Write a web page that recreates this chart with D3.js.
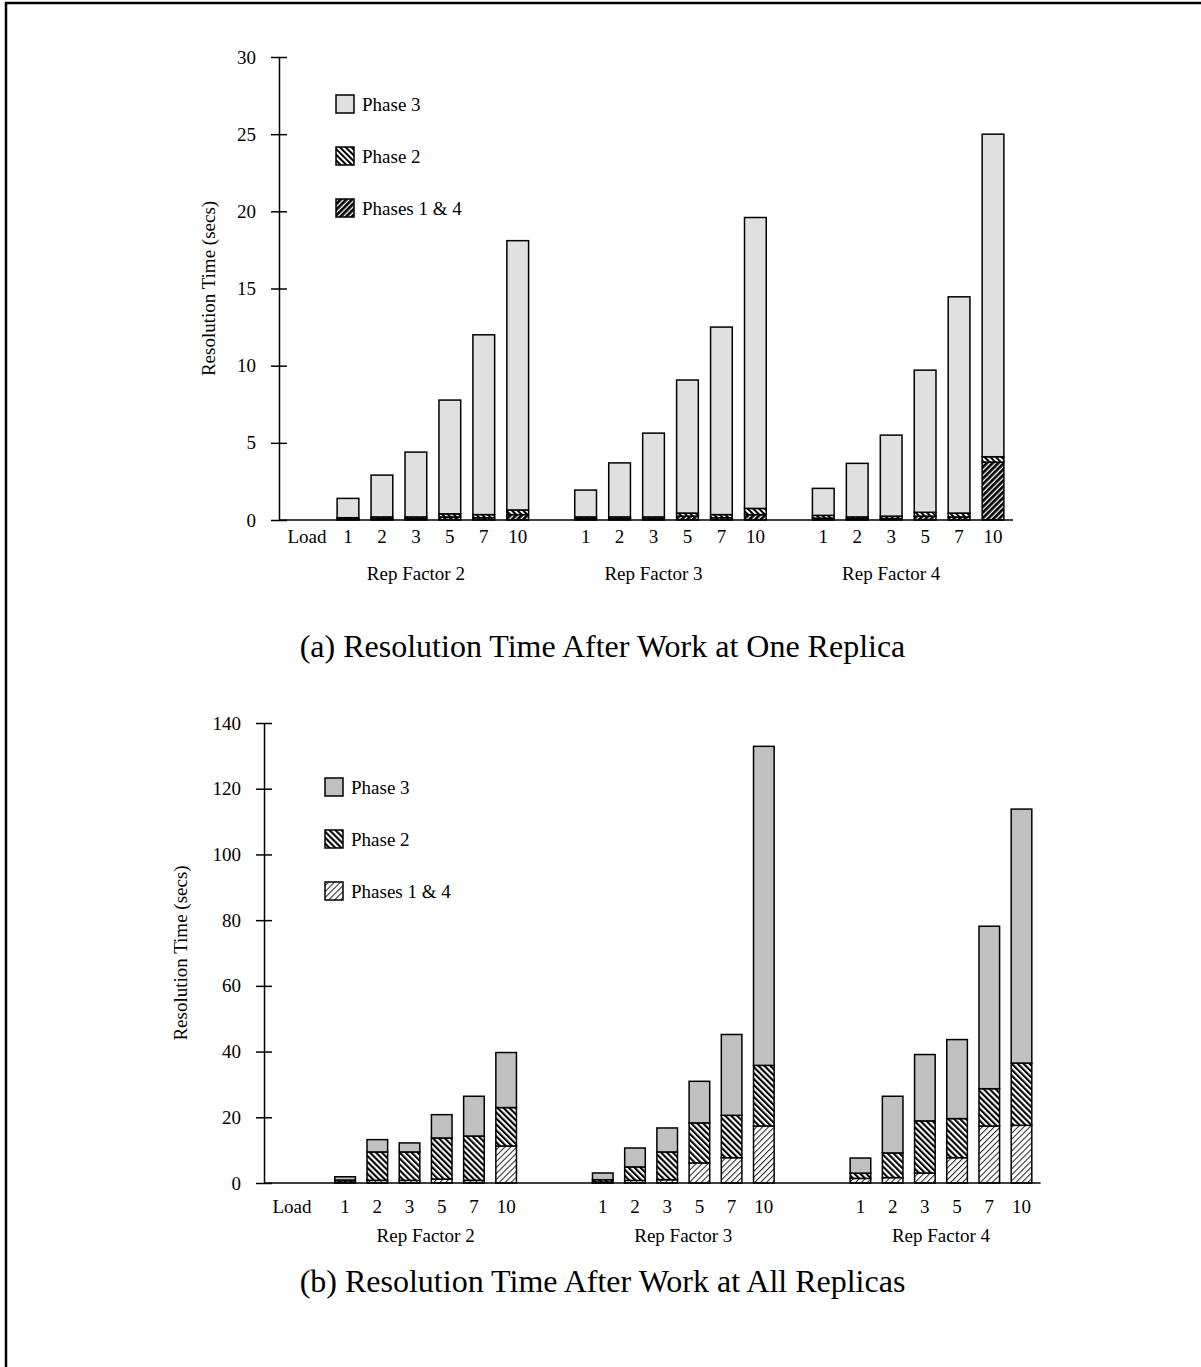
<!DOCTYPE html>
<html>
<head>
<meta charset="utf-8">
<script src="https://cdn.jsdelivr.net/npm/d3@7"></script>
<style>
  body { margin: 0; background: #fff; }
  text { font-family: "Liberation Serif", "Times New Roman", serif; fill: #000; }
</style>
</head>
<body>
<div id="chart"></div>
<script>

var width = 1201,
    height = 1367;

// ---- data ----
var loads = ["1", "2", "3", "5", "7", "10"];
var repFactors = ["Rep Factor 2", "Rep Factor 3", "Rep Factor 4"];
var phaseNames = ["Phase 3", "Phase 2", "Phases 1 & 4"];
var captions = ["(a) Resolution Time After Work at One Replica",
                "(b) Resolution Time After Work at All Replicas"];

// (a) work at one replica, seconds (rep 2 | rep 3 | rep 4)
var onePhase14 = [0.05, 0.08, 0.08, 0.2, 0.15, 0.35,   0.08, 0.08, 0.08, 0.25, 0.15, 0.35,   0.12, 0.08, 0.1, 0.25, 0.2, 3.75];
var onePhase2  = [0.1, 0.12, 0.12, 0.2, 0.2, 0.3,      0.12, 0.12, 0.12, 0.2, 0.2, 0.4,      0.18, 0.12, 0.15, 0.25, 0.25, 0.35];
var onePhase3  = [1.25, 2.71, 4.2, 7.37, 11.65, 17.45, 1.74, 3.5, 5.43, 8.62, 12.15, 18.85, 1.75, 3.47, 5.25, 9.21, 14.01, 20.9];
var oneTicks = [0, 5, 10, 15, 20, 25, 30];

// (b) work at all replicas, seconds
var allPhase14 = [0.3, 0.8, 0.8, 1.2, 0.8, 11.26,     0.3, 0.8, 1.0, 6.1, 7.7, 17.35,       1.4, 1.65, 3.05, 7.7, 17.35, 17.55];
var allPhase2  = [0.6, 8.65, 8.65, 12.5, 13.5, 11.7,  0.7, 4.1, 8.45, 12.2, 12.9, 18.45,    1.6, 7.5, 15.85, 11.9, 11.35, 18.95];
var allPhase3  = [1.0, 3.75, 2.75, 7.1, 12.1, 16.75,  2.05, 5.75, 7.3, 12.65, 24.6, 97.1,   4.6, 17.25, 20.2, 24.05, 49.45, 77.3];
var allTicks = [0, 20, 40, 60, 80, 100, 120, 140];

var svg = d3.select("#chart").append("svg")
    .attr("width", width)
    .attr("height", height);

// page frame (only top and left edges are visible)
svg.append("path")
    .attr("d", "M6," + height + "V3H" + width)
    .attr("fill", "none")
    .attr("stroke", "#000")
    .attr("stroke-width", 2.5);

var defs = svg.append("defs");

// striped fills; angle 45 gives "/" stripes, -45 gives "\"
function hatch(id, angle, period, lineWidth, color) {
  var p = defs.append("pattern")
      .attr("id", id)
      .attr("patternUnits", "userSpaceOnUse")
      .attr("width", period)
      .attr("height", period)
      .attr("patternTransform", "rotate(" + angle + ")");
  p.append("rect").attr("width", period).attr("height", period).attr("fill", "#fff");
  p.append("rect").attr("width", lineWidth).attr("height", period).attr("fill", color);
}
hatch("a-p2", -45, 4, 2.0, "#000");
hatch("a-p14", 45, 4, 2.7, "#000");
hatch("b-p2", -45, 4.2, 2.1, "#000");
hatch("b-p14", 45, 4.2, 1.0, "#222");

var chartA = {
  id: "a", p14: onePhase14, p2: onePhase2, p3: onePhase3, ticks: oneTicks, caption: captions[0],
  fill3: "#e0e0e0", axisX: 279, y0: 520, yTop: 57, xStart: 331, xEnd: 1010, gap: 1,
  legendX: 336, legendY: 104, tickY: 543, groupY: 580, captionY: 657, groupShift: -0.5, titleX: 208
};
var chartB = {
  id: "b", p14: allPhase14, p2: allPhase2, p3: allPhase3, ticks: allTicks, caption: captions[1],
  fill3: "#c0c0c0", axisX: 264, y0: 1183, yTop: 723, xStart: 329, xEnd: 1037.6, gap: 2,
  legendX: 325, legendY: 787, tickY: 1213, groupY: 1242, captionY: 1292, groupShift: 0, titleX: 180
};

drawChart(chartA);
drawChart(chartB);

function drawChart(c) {
  var g = svg.append("g").attr("class", "chart-" + c.id);

  // one row per bar, slot keys include empty spacer slots between groups
  var rows = [], slots = [];
  repFactors.forEach(function(rf, gi) {
    if (gi > 0) d3.range(c.gap).forEach(function(k) { slots.push("gap" + gi + "-" + k); });
    loads.forEach(function(ld, li) {
      var i = gi * loads.length + li;
      var key = gi + "|" + ld;
      slots.push(key);
      rows.push({ key: key, load: ld, group: gi, p14: c.p14[i], p2: c.p2[i], p3: c.p3[i] });
    });
  });

  var x = d3.scaleBand()
      .domain(slots)
      .range([c.xStart, c.xEnd])
      .paddingInner(0.36)
      .paddingOuter(0.18);

  var y = d3.scaleLinear()
      .domain([0, d3.max(c.ticks)])
      .range([c.y0, c.yTop]);

  var fills = { p14: "url(#" + c.id + "-p14)", p2: "url(#" + c.id + "-p2)", p3: c.fill3 };

  var series = d3.stack().keys(["p14", "p2", "p3"])(rows);

  g.selectAll(".layer")
      .data(series)
    .enter().append("g")
      .attr("class", "layer")
      .attr("fill", function(d) { return fills[d.key]; })
    .selectAll("rect")
      .data(function(d) { return d; })
    .enter().append("rect")
      .attr("x", function(d) { return x(d.data.key); })
      .attr("width", x.bandwidth())
      .attr("y", function(d) { return y(d[1]); })
      .attr("height", function(d) { return y(d[0]) - y(d[1]); })
      .attr("stroke", "#000")
      .attr("stroke-width", 1.5);

  // y axis with ticks crossing the line
  var yAxis = g.append("g")
      .attr("transform", "translate(" + c.axisX + ",0)")
      .call(d3.axisLeft(y).tickValues(c.ticks).tickSize(8).tickSizeOuter(0).tickPadding(15));
  yAxis.select(".domain").attr("stroke-width", 1.5);
  yAxis.selectAll(".tick line").attr("x1", 8).attr("stroke-width", 1.5);
  yAxis.selectAll(".tick text")
      .style("font-family", "'Liberation Serif', 'Times New Roman', serif")
      .style("font-size", "19px");

  // baseline
  g.append("line")
      .attr("x1", c.axisX).attr("x2", c.xEnd + 3)
      .attr("y1", c.y0).attr("y2", c.y0)
      .attr("stroke", "#000")
      .attr("stroke-width", 1.5);

  // load labels under each bar
  g.selectAll(".load")
      .data(rows)
    .enter().append("text")
      .attr("class", "load")
      .attr("x", function(d) { return x(d.key) + x.bandwidth() / 2; })
      .attr("y", c.tickY)
      .attr("text-anchor", "middle")
      .style("font-size", "19px")
      .text(function(d) { return d.load; });

  g.append("text")
      .attr("x", c.axisX + 28)
      .attr("y", c.tickY)
      .attr("text-anchor", "middle")
      .style("font-size", "19px")
      .text("Load");

  // group labels
  g.selectAll(".group")
      .data(repFactors)
    .enter().append("text")
      .attr("class", "group")
      .attr("x", function(d, gi) {
        var first = x(gi + "|" + loads[0]), last = x(gi + "|" + loads[loads.length - 1]);
        return (first + last) / 2 + x.bandwidth() / 2 + c.groupShift * x.step();
      })
      .attr("y", c.groupY)
      .attr("text-anchor", "middle")
      .style("font-size", "19px")
      .text(function(d) { return d; });

  // y title
  g.append("text")
      .attr("transform", "translate(" + c.titleX + "," + (c.y0 + c.yTop) / 2 + ") rotate(-90)")
      .attr("text-anchor", "middle")
      .attr("dy", "0.35em")
      .style("font-size", "19px")
      .text("Resolution Time (secs)");

  // legend
  var legendFills = [fills.p3, fills.p2, fills.p14];
  var lg = g.selectAll(".legend")
      .data(phaseNames)
    .enter().append("g")
      .attr("class", "legend")
      .attr("transform", function(d, i) { return "translate(" + c.legendX + "," + (c.legendY + i * 52) + ")"; });
  lg.append("rect")
      .attr("x", 0).attr("y", -9)
      .attr("width", 18).attr("height", 18)
      .attr("fill", function(d, i) { return legendFills[i]; })
      .attr("stroke", "#000")
      .attr("stroke-width", 1.5);
  lg.append("text")
      .attr("x", 26)
      .attr("dy", "0.35em")
      .style("font-size", "19px")
      .text(function(d) { return d; });

  // caption
  g.append("text")
      .attr("x", width / 2 + 2)
      .attr("y", c.captionY)
      .attr("text-anchor", "middle")
      .style("font-size", "32px")
      .text(c.caption);
}

</script>
</body>
</html>
